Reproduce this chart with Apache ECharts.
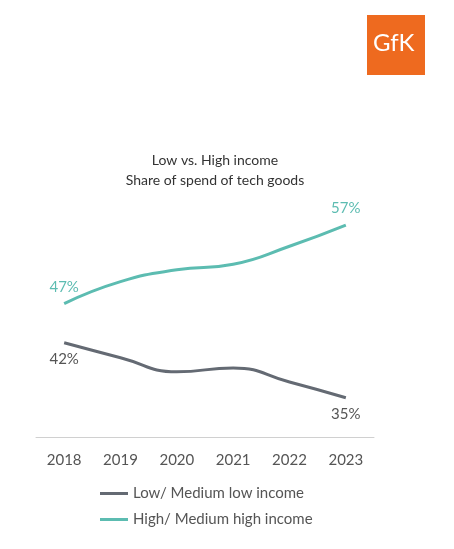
<!DOCTYPE html>
<html>
<head>
<meta charset="utf-8">
<script src="https://cdn.jsdelivr.net/npm/echarts@6/dist/echarts.min.js"></script>
<style>
  html, body { margin: 0; padding: 0; background: #fff; }
  #chart { width: 454px; height: 549px; }
</style>
</head>
<body>
<div id="chart"></div>
<script>
const years = ['2018', '2019', '2020', '2021', '2022', '2023']
const lowIncome = [42, 40.1, 38.3, 38.8, 37, 35]
const highIncome = [47, 49.8, 51.3, 52, 54.3, 57]
const seriesNames = ['Low/ Medium low income', 'High/ Medium high income']

const teal = '#5cbcb1'
const grey = '#646a73'

const chart = echarts.init(document.getElementById('chart'))

// only first and last points are labelled
const endLabel = (pos) => ({
  show: true,
  position: pos,
  distance: 9,
  fontFamily: 'Lato',
  fontSize: 15,
  formatter: (p) => (p.dataIndex === 0 || p.dataIndex === years.length - 1) ? p.value + '%' : ''
})

chart.setOption({
  animation: false,
  title: {
    text: 'Low vs. High income\nShare of spend of tech goods',
    left: 210,
    top: 145,
    textAlign: 'center',
    textStyle: { fontFamily: 'Lato', fontSize: 14, fontWeight: 'normal', color: '#333', lineHeight: 20 }
  },
  graphic: [
    { type: 'rect', shape: { x: 367, y: 15, width: 58, height: 60 }, style: { fill: '#ee6a1f' } },
    { type: 'text', left: 373, top: 31, style: { text: 'GfK', fill: '#fff', font: '24px Lato' } }
  ],
  legend: {
    orient: 'vertical',
    left: 95,
    top: 481,
    itemGap: 11,
    itemWidth: 28,
    textStyle: { fontFamily: 'Lato', fontSize: 15, color: '#555' },
    data: seriesNames.map((n) => ({ name: n, icon: 'path://M0,0H28V3H0Z' }))
  },
  grid: { left: 36, right: 80, top: 123, bottom: 112 },
  xAxis: {
    type: 'category',
    data: years,
    boundaryGap: true,
    axisLine: { lineStyle: { color: '#d0d0d0' } },
    axisTick: { show: false },
    axisLabel: { fontFamily: 'Lato', fontSize: 15, color: '#555', margin: 16 }
  },
  yAxis: { type: 'value', min: 30, max: 70, show: false, splitLine: { show: false } },
  series: [
    {
      name: seriesNames[0],
      type: 'line',
      smooth: true,
      data: lowIncome,
      symbol: 'circle',
      symbolSize: 0.1,
      lineStyle: { color: grey, width: 3 },
      itemStyle: { color: grey },
      label: Object.assign(endLabel('bottom'), { color: '#555' })
    },
    {
      name: seriesNames[1],
      type: 'line',
      smooth: true,
      data: highIncome,
      symbol: 'circle',
      symbolSize: 0.1,
      lineStyle: { color: teal, width: 3 },
      itemStyle: { color: teal },
      label: Object.assign(endLabel('top'), { color: teal })
    }
  ]
})
</script>
</body>
</html>
